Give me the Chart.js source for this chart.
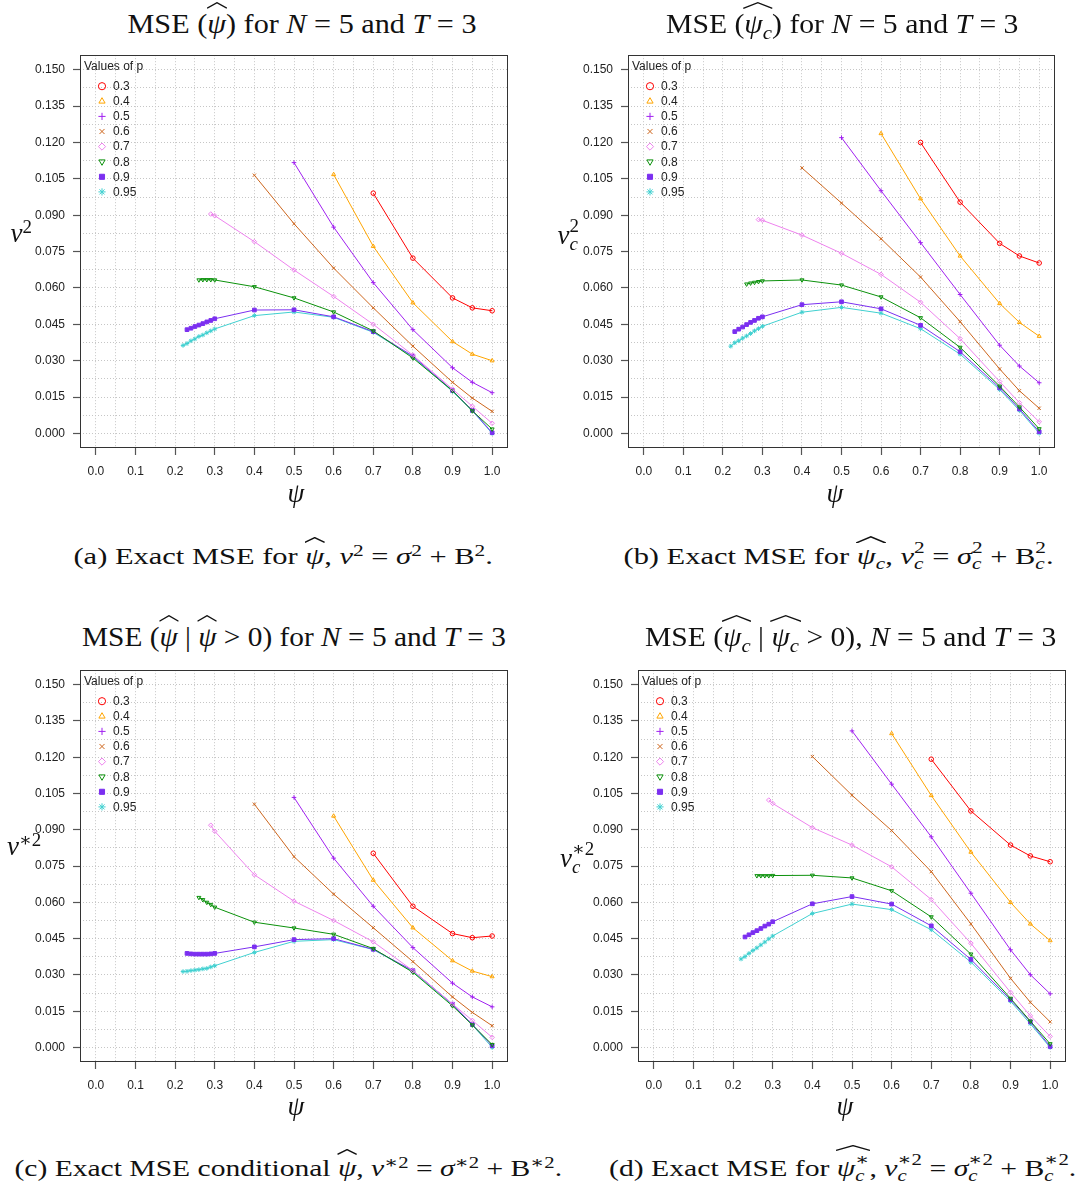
<!DOCTYPE html>
<html>
<head>
<meta charset="utf-8">
<script src="https://cdn.jsdelivr.net/npm/chart.js@4.4.1/dist/chart.umd.min.js"></script>
<style>
html,body{margin:0;padding:0;background:#fff;}
#page{position:relative;width:1086px;height:1189px;overflow:hidden;background:#fff;}
canvas{position:absolute;}
.t{position:absolute;white-space:nowrap;font-family:"Liberation Serif","DejaVu Serif",serif;color:#111;line-height:1;}
.title{font-size:27px;}
.cap{font-size:24px;}
.ax{font-size:27px;}
i{font-style:italic;}
.hat{position:relative;display:inline-block;}
.hat::after{content:"";position:absolute;left:-4%;width:108%;top:-0.30em;height:0.26em;
  background:url("data:image/svg+xml,%3Csvg xmlns='http://www.w3.org/2000/svg' viewBox='0 0 100 20' preserveAspectRatio='none'%3E%3Cpolyline points='1,18 50,2 99,18' fill='none' stroke='%23111' stroke-width='1.3' vector-effect='non-scaling-stroke'/%3E%3C/svg%3E") no-repeat;
  background-size:100% 100%;}
sup.s{font-size:0.7em;vertical-align:0.5em;line-height:0;}
sub.s{font-size:0.7em;vertical-align:-0.3em;line-height:0;}
.ss{display:inline-block;vertical-align:-0.32em;font-size:0.7em;line-height:0.95;text-align:left;}
.ss>span{display:block;}
</style>
</head>
<body>
<div id="page">
  <canvas id="cA" width="540" height="440" style="left:0px;top:40px;"></canvas>
  <canvas id="cB" width="541" height="440" style="left:545px;top:40px;"></canvas>
  <canvas id="cC" width="540" height="440" style="left:0px;top:655px;"></canvas>
  <canvas id="cD" width="541" height="440" style="left:545px;top:655px;"></canvas>

  <div class="t title" data-cx="302" data-cy="24" data-w="349">MSE (<span class="hat"><i>ψ</i></span>) for <i>N</i> = 5 and <i>T</i> = 3</div>
  <div class="t title" data-cx="842" data-cy="24" data-w="352">MSE (<span class="hat"><i>ψ</i><sub class="s"><i>c</i></sub></span>) for <i>N</i> = 5 and <i>T</i> = 3</div>
  <div class="t title" data-cx="294" data-cy="637" data-w="424">MSE (<span class="hat"><i>ψ</i></span> | <span class="hat"><i>ψ</i></span> &gt; 0) for <i>N</i> = 5 and <i>T</i> = 3</div>
  <div class="t title" data-cx="850" data-cy="637" data-w="411">MSE (<span class="hat"><i>ψ</i><sub class="s"><i>c</i></sub></span> | <span class="hat"><i>ψ</i><sub class="s"><i>c</i></sub></span> &gt; 0), <i>N</i> = 5 and <i>T</i> = 3</div>

  <div class="t cap" data-cx="283" data-cy="556" data-w="419">(a) Exact MSE for <span class="hat"><i>ψ</i></span>, <i>ν</i><sup class="s">2</sup> = <i>σ</i><sup class="s">2</sup> + B<sup class="s">2</sup>.</div>
  <div class="t cap" data-cx="838" data-cy="556" data-w="430">(b) Exact MSE for <span class="hat"><i>ψ</i><sub class="s"><i>c</i></sub></span>, <i>ν</i><span class="ss"><span>2</span><span><i>c</i></span></span> = <i>σ</i><span class="ss"><span>2</span><span><i>c</i></span></span> + B<span class="ss"><span>2</span><span><i>c</i></span></span>.</div>
  <div class="t cap" data-cx="288" data-cy="1168" data-w="547">(c) Exact MSE conditional <span class="hat"><i>ψ</i></span>, <i>ν</i><sup class="s">∗2</sup> = <i>σ</i><sup class="s">∗2</sup> + B<sup class="s">∗2</sup>.</div>
  <div class="t cap" data-cx="842" data-cy="1168" data-w="467">(d) Exact MSE for <span class="hat"><i>ψ</i><span class="ss"><span>∗</span><span><i>c</i></span></span></span>, <i>ν</i><span class="ss"><span>∗2</span><span><i>c</i></span></span> = <i>σ</i><span class="ss"><span>∗2</span><span><i>c</i></span></span> + B<span class="ss"><span>∗2</span><span><i>c</i></span></span>.</div>

  <div class="t ax" data-cx="21" data-cy="233"><i>ν</i><sup class="s">2</sup></div>
  <div class="t ax" data-cx="568" data-cy="235"><i>ν</i><span class="ss"><span>2</span><span><i>c</i></span></span></div>
  <div class="t ax" data-cx="24" data-cy="846"><i>ν</i><sup class="s">∗2</sup></div>
  <div class="t ax" data-cx="577" data-cy="858"><i>ν</i><span class="ss"><span>∗2</span><span><i>c</i></span></span></div>

  <div class="t ax" data-cx="296" data-cy="493"><i>ψ</i></div>
  <div class="t ax" data-cx="835" data-cy="493"><i>ψ</i></div>
  <div class="t ax" data-cx="296" data-cy="1106"><i>ψ</i></div>
  <div class="t ax" data-cx="845" data-cy="1106"><i>ψ</i></div>
</div>

<script>
// ---------------- DATA ----------------
// psi values (x) for each value of p
const psiP03  = [0.7, 0.8, 0.9, 0.95, 1.0];
const psiP04  = [0.6, 0.7, 0.8, 0.9, 0.95, 1.0];
const psiP05  = [0.5, 0.6, 0.7, 0.8, 0.9, 0.95, 1.0];
const psiP06  = [0.4, 0.5, 0.6, 0.7, 0.8, 0.9, 0.95, 1.0];
const psiP07  = [0.29, 0.30, 0.4, 0.5, 0.6, 0.7, 0.8, 0.9, 0.95, 1.0];
const psiP08  = [0.26, 0.27, 0.28, 0.29, 0.30, 0.4, 0.5, 0.6, 0.7, 0.8, 0.9, 0.95, 1.0];
const psiP09  = [0.23, 0.24, 0.25, 0.26, 0.27, 0.28, 0.29, 0.30, 0.4, 0.5, 0.6, 0.7, 0.8, 0.9, 0.95, 1.0];
const psiP095 = [0.22, 0.23, 0.24, 0.25, 0.26, 0.27, 0.28, 0.29, 0.30, 0.4, 0.5, 0.6, 0.7, 0.8, 0.9, 0.95, 1.0];

// (a) nu^2
const a03  = [0.0991, 0.0723, 0.0559, 0.0518, 0.0506];
const a04  = [0.1068, 0.0772, 0.0539, 0.0379, 0.0327, 0.0300];
const a05  = [0.1117, 0.0851, 0.0622, 0.0428, 0.0271, 0.0211, 0.0168];
const a06  = [0.1065, 0.0865, 0.0682, 0.0518, 0.0360, 0.0211, 0.0146, 0.0091];
const a07  = [0.0905, 0.0898, 0.0791, 0.0674, 0.0565, 0.0450, 0.0323, 0.0183, 0.0112, 0.0042];
const a08  = [0.0633, 0.0634, 0.0634, 0.0634, 0.0633, 0.0605, 0.0559, 0.0501, 0.0423, 0.0311, 0.0176, 0.0093, 0.0018];
const a09  = [0.0428, 0.0434, 0.0441, 0.0447, 0.0453, 0.0460, 0.0466, 0.0473, 0.0509, 0.0510, 0.0481, 0.0420, 0.0319, 0.0177, 0.0095, 0.0003];
const a095 = [0.0363, 0.0371, 0.0382, 0.0390, 0.0400, 0.0406, 0.0415, 0.0423, 0.0431, 0.0486, 0.0501, 0.0479, 0.0417, 0.0316, 0.0173, 0.0093, 0.0000];

// (b) nu_c^2
const b03  = [0.1200, 0.0954, 0.0784, 0.0732, 0.0703];
const b04  = [0.1237, 0.0968, 0.0732, 0.0536, 0.0458, 0.0401];
const b05  = [0.1220, 0.1001, 0.0787, 0.0573, 0.0364, 0.0278, 0.0209];
const b06  = [0.1095, 0.0950, 0.0803, 0.0645, 0.0461, 0.0266, 0.0176, 0.0104];
const b07  = [0.0882, 0.0879, 0.0818, 0.0743, 0.0656, 0.0541, 0.0391, 0.0214, 0.0127, 0.0048];
const b08  = [0.0616, 0.0620, 0.0623, 0.0626, 0.0629, 0.0633, 0.0612, 0.0563, 0.0477, 0.0355, 0.0195, 0.0109, 0.0019];
const b09  = [0.0420, 0.0430, 0.0439, 0.0449, 0.0458, 0.0466, 0.0475, 0.0481, 0.0531, 0.0543, 0.0514, 0.0446, 0.0337, 0.0188, 0.0101, 0.0007];
const b095 = [0.0360, 0.0374, 0.0382, 0.0393, 0.0402, 0.0412, 0.0423, 0.0432, 0.0442, 0.0500, 0.0520, 0.0496, 0.0432, 0.0327, 0.0181, 0.0095, 0.0001];

// (c) nu*^2
const c03  = [0.0803, 0.0584, 0.0471, 0.0454, 0.0461];
const c04  = [0.0957, 0.0692, 0.0495, 0.0359, 0.0316, 0.0293];
const c05  = [0.1034, 0.0783, 0.0584, 0.0413, 0.0266, 0.0209, 0.0168];
const c06  = [0.1006, 0.0789, 0.0634, 0.0495, 0.0355, 0.0209, 0.0145, 0.0090];
const c07  = [0.0919, 0.0894, 0.0714, 0.0605, 0.0525, 0.0437, 0.0318, 0.0180, 0.0112, 0.0042];
const c08  = [0.0620, 0.0611, 0.0600, 0.0591, 0.0580, 0.0518, 0.0494, 0.0468, 0.0409, 0.0311, 0.0172, 0.0093, 0.0012];
const c09  = [0.0389, 0.0387, 0.0386, 0.0386, 0.0386, 0.0386, 0.0387, 0.0389, 0.0416, 0.0446, 0.0450, 0.0406, 0.0318, 0.0179, 0.0095, 0.0007];
const c095 = [0.0314, 0.0315, 0.0318, 0.0320, 0.0322, 0.0325, 0.0327, 0.0333, 0.0338, 0.0393, 0.0439, 0.0446, 0.0405, 0.0314, 0.0177, 0.0093, 0.0000];

// (d) nu_c*^2
const d03  = [0.1192, 0.0978, 0.0837, 0.0792, 0.0768];
const d04  = [0.1298, 0.1042, 0.0808, 0.0600, 0.0511, 0.0442];
const d05  = [0.1309, 0.1089, 0.0871, 0.0638, 0.0404, 0.0301, 0.0222];
const d06  = [0.1203, 0.1043, 0.0897, 0.0727, 0.0511, 0.0286, 0.0187, 0.0106];
const d07  = [0.1023, 0.1009, 0.0909, 0.0837, 0.0747, 0.0612, 0.0431, 0.0228, 0.0131, 0.0046];
const d08  = [0.0710, 0.0710, 0.0710, 0.0710, 0.0711, 0.0712, 0.0701, 0.0648, 0.0540, 0.0386, 0.0203, 0.0109, 0.0015];
const d09  = [0.0457, 0.0466, 0.0475, 0.0483, 0.0492, 0.0502, 0.0510, 0.0520, 0.0594, 0.0624, 0.0593, 0.0503, 0.0364, 0.0198, 0.0106, 0.0004];
const d095 = [0.0366, 0.0376, 0.0389, 0.0401, 0.0412, 0.0424, 0.0436, 0.0449, 0.0461, 0.0554, 0.0593, 0.0570, 0.0487, 0.0353, 0.0191, 0.0098, 0.0000];

// legend / series identity
const pLabels = ['0.3', '0.4', '0.5', '0.6', '0.7', '0.8', '0.9', '0.95'];
const pPsi    = [psiP03, psiP04, psiP05, psiP06, psiP07, psiP08, psiP09, psiP095];

// tick labels
const xTickLabels = ['0.0','0.1','0.2','0.3','0.4','0.5','0.6','0.7','0.8','0.9','1.0'];
const yTickLabels = ['0.000','0.015','0.030','0.045','0.060','0.075','0.090','0.105','0.120','0.135','0.150'];

// ---------------- STYLE ----------------
const pColors = ['#FF0000', '#FFA500', '#A020F0', '#CD661D', '#EE82EE', '#0B910B', '#7B2FF0', '#40D0D0'];
const pStyles = ['circle', 'triangle', 'cross', 'crossRot', 'rectRot', 'triangle', 'rect', 'star'];
const pRot    = [0, 0, 0, 0, 0, 180, 0, 0];
const pFilled = [false, false, false, false, false, false, true, false];

const xMajor = xTickLabels.map(Number);
const yMajor = yTickLabels.map(Number);
function withMidpoints(arr) {
  const out = [];
  for (let i = 0; i < arr.length; i++) {
    out.push(arr[i]);
    if (i < arr.length - 1) out.push((arr[i] + arr[i + 1]) / 2);
  }
  return out;
}
const xGrid = withMidpoints(xMajor);
const yGrid = withMidpoints(yMajor);
const isMajor = (v, arr) => arr.some(m => Math.abs(m - v) < 1e-9);

function makeDatasets(seriesList) {
  return seriesList.map((ys, i) => ({
    label: pLabels[i],
    data: pPsi[i].map((x, k) => ({ x: x, y: ys[k] })),
    showLine: true,
    borderColor: pColors[i],
    backgroundColor: pFilled[i] ? pColors[i] : 'rgba(0,0,0,0)',
    pointBorderColor: pColors[i],
    pointBackgroundColor: pFilled[i] ? pColors[i] : 'rgba(0,0,0,0)',
    pointStyle: pStyles[i],
    pointRotation: pRot[i],
    pointRadius: pStyles[i] === 'rect' ? 2.6 : 2.3,
    pointBorderWidth: 1,
    pointHoverRadius: 2.3,
    borderWidth: 1,
    tension: 0,
    fill: false
  }));
}

const boxPlugin = {
  id: 'rbox',
  afterDatasetsDraw(chart) {
    const { ctx, chartArea: a } = chart;
    ctx.save();
    ctx.strokeStyle = '#333';
    ctx.lineWidth = 1;
    ctx.strokeRect(Math.round(a.left) + 0.5, Math.round(a.top) + 0.5,
                   Math.round(a.right - a.left) - 1, Math.round(a.bottom - a.top) - 1);
    ctx.restore();
  }
};

const legendPlugin = {
  id: 'rlegend',
  afterDraw(chart) {
    const { ctx, chartArea: a } = chart;
    ctx.save();
    ctx.font = '12px "Liberation Sans", Arial, sans-serif';
    ctx.fillStyle = '#222';
    ctx.textBaseline = 'middle';
    ctx.textAlign = 'left';
    ctx.fillText('Values of p', a.left + 4, a.top + 11);
    for (let i = 0; i < pLabels.length; i++) {
      const y = a.top + 31 + i * 15.1;
      const x = a.left + 22;
      ctx.strokeStyle = pColors[i];
      ctx.fillStyle = pFilled[i] ? pColors[i] : 'rgba(0,0,0,0)';
      ctx.lineWidth = 1;
      Chart.helpers.drawPoint(ctx, { pointStyle: pStyles[i], rotation: pRot[i], radius: pStyles[i] === 'rect' ? 3.6 : 3.6, borderWidth: 1 }, x, y);
      ctx.fillStyle = '#222';
      ctx.fillText(pLabels[i], a.left + 33, y + 0.5);
    }
    ctx.restore();
  }
};

function makeChart(id, seriesList, yWidth, padTop, padRight, xHeight) {
  const tickFont = { family: '"Liberation Sans", Arial, sans-serif', size: 12 };
  return new Chart(document.getElementById(id), {
    type: 'scatter',
    data: { datasets: makeDatasets(seriesList) },
    options: {
      responsive: false,
      animation: false,
      events: [],
      layout: { padding: { top: padTop, right: padRight, left: 0, bottom: 0 } },
      plugins: { legend: { display: false }, tooltip: { enabled: false }, title: { display: false } },
      scales: {
        x: {
          type: 'linear', min: -0.04, max: 1.04,
          afterBuildTicks: s => { s.ticks = xGrid.map(v => ({ value: v })); },
          afterFit: s => { s.height = xHeight; },
          ticks: {
            autoSkip: false, maxRotation: 0, padding: 9, color: '#222', font: tickFont,
            callback: v => { const k = xMajor.findIndex(m => Math.abs(m - v) < 1e-9); return k >= 0 ? xTickLabels[k] : ''; }
          },
          grid: {
            color: '#c6c6c6', lineWidth: 1, tickLength: 7, tickWidth: 1.2,
            tickColor: c => (c.tick && !isMajor(c.tick.value, xMajor)) ? 'rgba(0,0,0,0)' : '#555',
            tickBorderDash: []
          },
          border: { display: false, dash: [1, 2] }
        },
        y: {
          type: 'linear', min: -0.006, max: 0.156,
          afterBuildTicks: s => { s.ticks = yGrid.map(v => ({ value: v })); },
          afterFit: s => { s.width = yWidth; },
          ticks: {
            autoSkip: false, padding: 8, color: '#222', font: tickFont,
            callback: v => { const k = yMajor.findIndex(m => Math.abs(m - v) < 1e-9); return k >= 0 ? yTickLabels[k] : ''; }
          },
          grid: {
            color: '#c6c6c6', lineWidth: 1, tickLength: 7, tickWidth: 1.2,
            tickColor: c => (c.tick && !isMajor(c.tick.value, yMajor)) ? 'rgba(0,0,0,0)' : '#555',
            tickBorderDash: []
          },
          border: { display: false, dash: [1, 2] }
        }
      }
    },
    plugins: [boxPlugin, legendPlugin]
  });
}

makeChart('cA', [a03, a04, a05, a06, a07, a08, a09, a095], 80, 12, 32, 32);
makeChart('cB', [b03, b04, b05, b06, b07, b08, b09, b095], 83, 12, 31, 32);
makeChart('cC', [c03, c04, c05, c06, c07, c08, c09, c095], 80, 10, 32, 33);
makeChart('cD', [d03, d04, d05, d06, d07, d08, d09, d095], 93, 10, 20, 33);

// place HTML texts (centered, optionally stretched to target width)
function placeTexts() {
  document.querySelectorAll('.t').forEach(el => {
    el.style.transform = 'none';
    const w = el.offsetWidth, h = el.offsetHeight;
    const cx = +el.dataset.cx, cy = +el.dataset.cy;
    el.style.left = (cx - w / 2) + 'px';
    el.style.top = (cy - h / 2) + 'px';
    if (el.dataset.w) {
      const k = (+el.dataset.w) / w;
      el.style.transform = 'scaleX(' + k.toFixed(4) + ')';
    }
  });
}
placeTexts();
if (document.fonts && document.fonts.ready) document.fonts.ready.then(placeTexts);
</script>
</body>
</html>
